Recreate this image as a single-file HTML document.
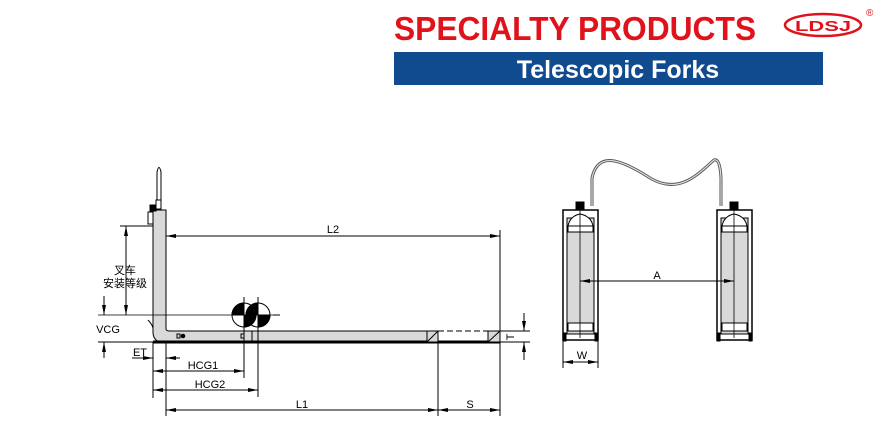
<!DOCTYPE html>
<html><head><meta charset="utf-8"><style>
body{margin:0;background:#fff;width:896px;height:446px;overflow:hidden}
svg{display:block}
text{font-family:"Liberation Sans","Noto Sans CJK SC",sans-serif}
</style></head><body>
<svg width="896" height="446" viewBox="0 0 896 446">
<defs>
<marker id="a" markerWidth="10" markerHeight="6" refX="10" refY="3" orient="auto-start-reverse" markerUnits="userSpaceOnUse"><path d="M0,1 L10,3 L0,5z" fill="#000"/></marker>
</defs>
<!-- header -->
<text x="394" y="40" font-size="33" font-weight="bold" fill="#e0121b" textLength="362" lengthAdjust="spacingAndGlyphs">SPECIALTY PRODUCTS</text>
<ellipse cx="823" cy="25" rx="38" ry="11" fill="none" stroke="#e0121b" stroke-width="2.5"/>
<text x="823" y="31" font-size="15" font-weight="bold" fill="#e0121b" text-anchor="middle" textLength="56" lengthAdjust="spacingAndGlyphs">LDSJ</text>
<text x="866" y="16" font-size="10" fill="#e0121b">®</text>
<rect x="394" y="52" width="429" height="33" fill="#104a8f"/>
<text x="618" y="78" font-size="25" font-weight="bold" fill="#fff" text-anchor="middle">Telescopic Forks</text>

<g stroke="#000" fill="none" stroke-width="1">
<!-- left fork -->
<path d="M153,210 L166,210 L166,329 Q166,331 170,331 L427,331 L427,342 L160,342 Q153,340 153,332 Z" fill="#d9d9d9"/>
<line x1="153" y1="342" x2="500" y2="342" stroke-width="3"/>
<path d="M427,331 L438,331 L438,342 L427,342Z M427,342 L438,331" fill="#d9d9d9"/>
<path d="M438,331 L488,331 M438,342 L488,342" stroke-dasharray="6,3"/>
<path d="M488,331 L500,331 L500,342 L488,342Z M488,342 L500,331" fill="#d9d9d9"/>
<line x1="252" y1="331" x2="252" y2="341"/>
<circle cx="183" cy="336" r="1.8" fill="#000"/>
<rect x="177" y="334" width="3" height="4"/>
<rect x="241" y="334" width="3" height="4"/>
<!-- handle -->
<path d="M157,200 L157,172 Q159,163 161,172 L161,200 Z" fill="#fff"/>
<rect x="156" y="200" width="5" height="9" fill="#fff"/>
<rect x="150" y="205" width="6" height="6" fill="#000"/>
<rect x="148" y="212" width="5" height="12" fill="#fff"/>
<path d="M148,320 Q152,324 153,328" />
<!-- dimensions -->
<line x1="166" y1="236" x2="500" y2="236" marker-start="url(#a)" marker-end="url(#a)"/>
<line x1="500" y1="230" x2="500" y2="416"/>
<line x1="438" y1="342" x2="438" y2="416"/>
<line x1="120" y1="226" x2="153" y2="226"/>
<line x1="126" y1="226" x2="126" y2="315" marker-start="url(#a)" marker-end="url(#a)"/>
<line x1="98" y1="315" x2="280" y2="315" stroke-width="0.8"/>
<line x1="98" y1="342" x2="153" y2="342"/>
<line x1="104" y1="296" x2="104" y2="315" marker-end="url(#a)"/>
<line x1="104" y1="342" x2="104" y2="358" marker-start="url(#a)"/>
<line x1="153" y1="342" x2="153" y2="398"/>
<line x1="166" y1="342" x2="166" y2="416"/>
<line x1="132" y1="358" x2="153" y2="358" marker-end="url(#a)"/>
<line x1="166" y1="358" x2="180" y2="358" marker-start="url(#a)"/>
<line x1="244" y1="297" x2="244" y2="378"/>
<line x1="258" y1="297" x2="258" y2="397"/>
<line x1="153" y1="371" x2="244" y2="371" marker-start="url(#a)" marker-end="url(#a)"/>
<line x1="153" y1="390" x2="258" y2="390" marker-start="url(#a)" marker-end="url(#a)"/>
<line x1="166" y1="410" x2="438" y2="410" marker-start="url(#a)" marker-end="url(#a)"/>
<line x1="438" y1="410" x2="500" y2="410" marker-start="url(#a)" marker-end="url(#a)"/>
<line x1="500" y1="331" x2="530" y2="331"/>
<line x1="500" y1="342" x2="530" y2="342"/>
<line x1="524" y1="313" x2="524" y2="331" marker-end="url(#a)"/>
<line x1="524" y1="342" x2="524" y2="360" marker-start="url(#a)"/>
</g>
<!-- CG circles -->
<g stroke="#000">
<circle cx="244" cy="315" r="12" fill="#fff"/>
<path d="M244,303 A12,12 0 0,0 232,315 L244,315Z M244,315 L256,315 A12,12 0 0,1 244,327Z" fill="#000"/>
<circle cx="258" cy="315" r="12" fill="#fff" fill-opacity="0"/>
<path d="M258,303 A12,12 0 0,0 246,315 L258,315Z M258,315 L270,315 A12,12 0 0,1 258,327Z" fill="#000"/>
</g>
<line x1="273" y1="315" x2="280" y2="315" stroke="#000"/>
<g font-size="11" fill="#000">
<text x="333" y="233" text-anchor="middle">L2</text>
<text x="125" y="274" text-anchor="middle">叉车</text>
<text x="125" y="287" text-anchor="middle">安装等级</text>
<text x="108" y="333" text-anchor="middle">VCG</text>
<text x="140" y="356" text-anchor="middle">ET</text>
<text x="203" y="369" text-anchor="middle">HCG1</text>
<text x="210" y="388" text-anchor="middle">HCG2</text>
<text x="302" y="408" text-anchor="middle">L1</text>
<text x="470" y="408" text-anchor="middle">S</text>
<text x="514" y="337" text-anchor="middle" transform="rotate(-90 514 337)">T</text>
<text x="657" y="279" text-anchor="middle">A</text>
<text x="582" y="359" text-anchor="middle">W</text>
</g>
<!-- right view -->
<g stroke="#000" fill="none">
<path d="M592,206 L592,178 C598,150 622,160 650,178 C680,196 700,172 714,160 Q720,158 721,178 L721,206" stroke="#555" stroke-width="3"/>
<path d="M592,206 L592,178 C598,150 622,160 650,178 C680,196 700,172 714,160 Q720,158 721,178 L721,206" stroke="#ddd" stroke-width="1.2"/>
<g id="f">
<rect x="563" y="210" width="35" height="130" fill="#fff" stroke-width="1.5"/>
<rect x="567" y="218" width="27" height="116" fill="#d9d9d9"/>
<path d="M568,226 Q570,216 580,214 Q591,216 593,226Z" fill="#fff"/>
<rect x="568" y="226" width="25" height="6" fill="#fff"/>
<rect x="568" y="323" width="25" height="8" fill="#fff"/>
<rect x="576" y="202" width="8" height="8" fill="#000"/>
<rect x="563" y="333" width="3" height="8" fill="#000"/>
<rect x="595" y="333" width="3" height="8" fill="#000"/>
<line x1="580" y1="210" x2="580" y2="338" stroke-width="0.8"/>
</g>
<use href="#f" transform="translate(154 0)"/>
<line x1="580" y1="281" x2="734" y2="281" marker-start="url(#a)" marker-end="url(#a)"/>
<line x1="563" y1="340" x2="563" y2="368"/>
<line x1="598" y1="340" x2="598" y2="368"/>
<line x1="563" y1="362" x2="598" y2="362" marker-start="url(#a)" marker-end="url(#a)"/>
</g>
</svg>
</body></html>
